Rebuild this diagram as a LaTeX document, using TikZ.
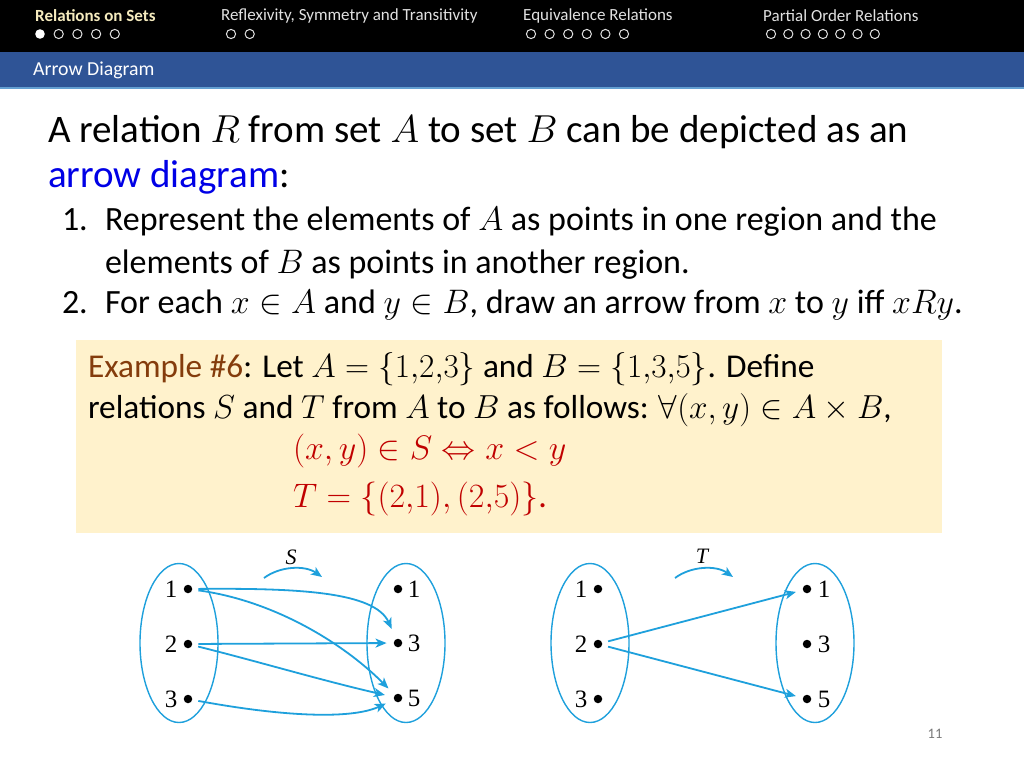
\RequirePackage{fix-cm}
\documentclass[tikz,border=0pt]{standalone}
\usepackage[no-math]{fontspec}
\setmainfont{Carlito}
\newfontfamily\numfont{Liberation Serif}
\usetikzlibrary{arrows.meta,shapes.geometric}
\definecolor{barblue}{RGB}{47,84,150}
\definecolor{lineblue}{RGB}{100,160,210}
\definecolor{actcol}{RGB}{245,235,190}
\definecolor{inact}{RGB}{225,225,225}
\definecolor{boxfill}{RGB}{255,242,204}
\definecolor{exbrown}{RGB}{132,60,12}
\definecolor{exred}{RGB}{192,0,0}
\definecolor{tblue}{RGB}{0,0,230}
\definecolor{diag}{RGB}{30,160,220}
\definecolor{pgnum}{RGB}{120,120,120}
\tikzset{
  txt/.style={anchor=base west,inner sep=0pt,outer sep=0pt},
  big/.style={txt,font=\fontsize{39}{44}\selectfont},
  body/.style={txt,font=\fontsize{34}{38}\selectfont},
  boxtxt/.style={txt,font=\fontsize{33.3}{38}\selectfont},
  hdr/.style={anchor=west,inner sep=0pt,font=\fontsize{17}{19}\selectfont},
  hcirc/.style={draw=inact,line width=1pt},
  setell/.style={ellipse,draw=diag,line width=1.4pt,minimum width=78pt,minimum height=159pt,inner sep=0pt},
  dot/.style={circle,fill=black,minimum size=8.5pt,inner sep=0pt},
  numl/.style={inner sep=0pt,font=\numfont\fontsize{25}{28}\selectfont},
  rel/.style={draw=diag,line width=1.8pt,-{Stealth[length=11pt,width=9pt,inset=3pt]}},
  setlab/.style={inner sep=0pt,font=\numfont\itshape\fontsize{22}{24}\selectfont}
}
\begin{document}
\begin{tikzpicture}[x=1pt,y=-1pt]
\useasboundingbox (0,0) rectangle (1024,768);
\fill[white] (0,0) rectangle (1024,768);
% header
\fill[black] (0,0) rectangle (1024,52);
\fill[barblue] (0,52) rectangle (1024,87);
\fill[lineblue] (0,87) rectangle (1024,89);
\node[hdr,text=actcol,font=\bfseries\fontsize{17}{19}\selectfont] (h1) at (35,16) {Relations on Sets};
\node[hdr,text=inact] (h2) at (221,16) {Reflexivity, Symmetry and Transitivity};
\node[hdr,text=inact] (h3) at (523,16) {Equivalence Relations};
\node[hdr,text=inact] (h4) at (763,16) {Partial Order Relations};
\fill[white] (40,34) circle (4.8);
\foreach \i in {1,...,4} \draw[hcirc] (40+18.7*\i,34) circle (4.6);
\foreach \i in {0,1} \draw[hcirc] (231+18.7*\i,34) circle (4.6);
\foreach \i in {0,...,5} \draw[hcirc] (531+18.6*\i,34) circle (4.6);
\foreach \i in {0,...,6} \draw[hcirc] (771+17.3*\i,34) circle (4.6);
\node[hdr,text=white,font=\fontsize{19.8}{22}\selectfont] (title) at (33,70) {Arrow Diagram};
% body text
\node[big] (l1) at (48,142) {A relation $R$ from set $A$ to set $B$ can be depicted as an};
\node[big] (l2) at (48,187) {\textcolor{tblue}{arrow diagram}:};
\node[body] (n1) at (62,230) {1.};
\node[body] (i1a) at (105,230) {Represent the elements of $A$ as points in one region and the};
\node[body] (i1b) at (105,273) {elements of $B$ as points in another region.};
\node[body] (n2) at (62,313) {2.};
\node[body] (i2) at (105,313) {For each $x\in A$ and $y\in B$, draw an arrow from $x$ to $y$ iff $xRy$.};
% example box
\fill[boxfill] (76,340) rectangle (942,533);
\node[boxtxt] (e1) at (88,377) {\textcolor{exbrown}{Example \#6}: Let $A=\{1{,}2{,}3\}$ and $B=\{1{,}3{,}5\}$. Define};
\node[boxtxt] (e2) at (88,418) {relations $S$ and $T$ from $A$ to $B$ as follows: $\forall(x,y)\in A\times B$,};
\node[body,text=exred] (e3) at (293,459) {$(x,y)\in S\Leftrightarrow x<y$};
\node[body,text=exred] (e4) at (293,507) {$T=\{(2{,}1),(2{,}5)\}$.};
% diagram S
\node[setell] (SA) at (179,643) {};
\node[setell] (SB) at (406,643) {};
\node[dot] (sa1) at (188,589) {};
\node[dot] (sa2) at (188,644) {};
\node[dot] (sa3) at (188,699) {};
\node[dot] (sb1) at (398,589) {};
\node[dot] (sb3) at (398,643) {};
\node[dot] (sb5) at (398,698) {};
\node[numl] (lsa1) at (171,589) {1};
\node[numl] (lsa2) at (171,644) {2};
\node[numl] (lsa3) at (171,699) {3};
\node[numl] (lsb1) at (414,589) {1};
\node[numl] (lsb3) at (414,643) {3};
\node[numl] (lsb5) at (414,698) {5};
\node[setlab] (labS) at (291,557) {S};
\coordinate (sarcA) at (264,578);
\coordinate (sarcB) at (322,577);
\draw[rel] (sarcA) .. controls (280,566) and (305,565) .. (sarcB);
\draw[rel,shorten <=6pt,shorten >=11pt] (sa1) .. controls (300,588) and (375,592) .. (sb3);
\draw[rel,shorten <=6pt,shorten >=9pt] (sa1) .. controls (270,600) and (340,640) .. (sb5);
\draw[rel,shorten <=6pt,shorten >=7pt] (sa2) -- (sb3);
\draw[rel,shorten <=6pt,shorten >=9pt] (sa2) .. controls (260,662) and (320,680) .. (sb5);
\draw[rel,shorten <=6pt,shorten >=9pt] (sa3) .. controls (280,716) and (350,720) .. (sb5);
% diagram T
\node[setell] (TA) at (590,643) {};
\node[setell] (TB) at (815,643) {};
\node[dot] (ta1) at (598,589) {};
\node[dot] (ta2) at (598,644) {};
\node[dot] (ta3) at (598,699) {};
\node[dot] (tb1) at (807,589) {};
\node[dot] (tb3) at (807,644) {};
\node[dot] (tb5) at (807,699) {};
\node[numl] (lta1) at (581,589) {1};
\node[numl] (lta2) at (581,644) {2};
\node[numl] (lta3) at (581,699) {3};
\node[numl] (ltb1) at (824,589) {1};
\node[numl] (ltb3) at (824,644) {3};
\node[numl] (ltb5) at (824,699) {5};
\node[setlab] (labT) at (702,556) {T};
\coordinate (tarcA) at (675,578);
\coordinate (tarcB) at (733,577);
\draw[rel] (tarcA) .. controls (691,566) and (716,565) .. (tarcB);
\draw[rel,shorten <=6pt,shorten >=7pt] (ta2) -- (tb1);
\draw[rel,shorten <=6pt,shorten >=7pt] (ta2) -- (tb5);
% page number
\node[inner sep=0pt,text=pgnum,font=\fontsize{14.5}{16}\selectfont] (pg) at (935,734) {11};
\end{tikzpicture}
\end{document}
